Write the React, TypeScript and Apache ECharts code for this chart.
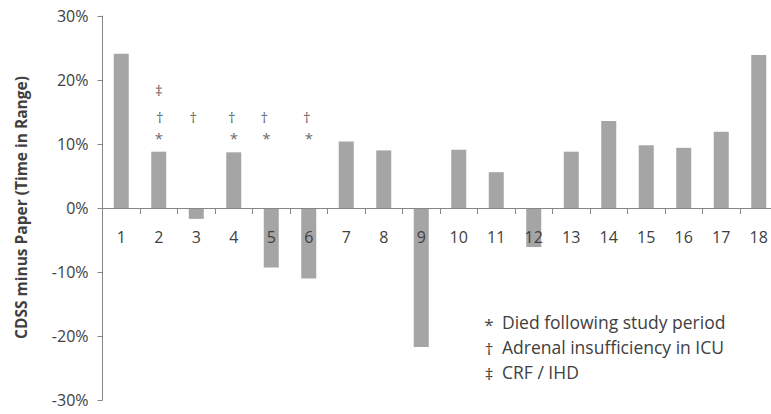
import React, { useEffect, useRef } from "react";
import * as echarts from "echarts";

const categories = ["1","2","3","4","5","6","7","8","9","10","11","12","13","14","15","16","17","18"];
const differences = [24.1, 8.8, -1.7, 8.7, -9.3, -11.0, 10.4, 9.0, -21.7, 9.1, 5.6, -6.1, 8.8, 13.6, 9.8, 9.4, 11.9, 23.9];
const yTicks = [-30, -20, -10, 0, 10, 20, 30];

// annotation symbols per patient
const diedPatients = ["2", "4", "5", "6"];
const adrenalPatients = ["2", "3", "4", "5", "6"];
const crfPatients = ["2"];

const legendItems = [
  { symbol: "*", text: "Died following study period" },
  { symbol: "\u2020", text: "Adrenal insufficiency in ICU" },
  { symbol: "\u2021", text: "CRF / IHD" },
];

const FONT = "'Open Sans', 'Noto Sans', sans-serif";
const TEXT = "#404040";
const AXIS = "#868686";

const GRID_TOP = 16;
const GRID_BOTTOM = 14;
const H = 414;

export default function App() {
  const ref = useRef<HTMLDivElement>(null);
  useEffect(() => {
    if (!ref.current) return;
    const chart = echarts.init(ref.current, undefined, { renderer: "svg" });
    const markSeries = (cats: string[], sym: string, level: number, dx: (c: string) => number) => ({
      type: "scatter",
      symbolSize: 0,
      silent: true,
      itemStyle: { color: TEXT },
      data: cats.map((c) => ({
        value: [c, level],
        label: { offset: [dx(c), 0] },
      })),
      label: {
        show: true,
        position: "inside",
        formatter: () => sym,
        color: TEXT,
        fontSize: 15,
        fontFamily: FONT,
      },
      z: 5,
    });
    const plotH = H - GRID_TOP - GRID_BOTTOM;
    const zeroFrac = (yTicks[yTicks.length - 1] - 0) / (yTicks[yTicks.length - 1] - yTicks[0]);
    chart.setOption({
      animation: false,
      textStyle: { fontFamily: FONT },
      grid: {
        left: 102.5,
        right: -6.5,
        top: GRID_TOP,
        bottom: GRID_BOTTOM,
        containLabel: false,
        outerBoundsMode: "none",
      },
      xAxis: {
        type: "category",
        data: categories,
        offset: -(plotH * (1 - zeroFrac)),
        axisLine: { onZero: false, lineStyle: { color: AXIS, width: 1 } },
        axisTick: { show: true, length: 6, lineStyle: { color: AXIS } },
        axisLabel: { color: TEXT, fontSize: 16, margin: 21, fontFamily: FONT },
        z: 10,
      },
      yAxis: {
        type: "value",
        min: yTicks[0] / 100,
        max: yTicks[yTicks.length - 1] / 100,
        interval: 0.1,
        axisLine: { show: true, lineStyle: { color: AXIS, width: 1 } },
        axisTick: { show: true, length: 5, lineStyle: { color: AXIS } },
        splitLine: { show: false },
        axisLabel: {
          color: TEXT,
          fontSize: 16,
          margin: 14,
          fontFamily: FONT,
          formatter: (v: number) => `${Math.round(v * 100)}%`,
        },
      },
      series: [
        {
          type: "bar",
          data: differences.map((d) => d / 100),
          barWidth: 15,
          itemStyle: { color: "#a5a5a5" },
          z: 2,
        },
        markSeries(diedPatients, "*", 0.109, (c) => (c === "5" ? -5 : 0)),
        markSeries(adrenalPatients, "\u2020", 0.142, (c) => (c === "3" ? -3 : c === "5" ? -7 : c === "4" ? -2 : c === "6" ? -2 : 1)),
        markSeries(crfPatients, "\u2021", 0.185, () => 0),
      ],
      graphic: [
        {
          type: "text",
          x: 21,
          y: 207.5,
          rotation: Math.PI / 2,
          style: {
            text: "CDSS minus Paper (Time in Range)",
            font: `bold 15.5px ${FONT}`,
            fill: TEXT,
            align: "center",
            verticalAlign: "middle",
          },
        },
        ...legendItems.flatMap((it, i) => [
          {
            type: "text",
            x: 489,
            y: (it.symbol === "*" ? 324 : 323) + i * 25,
            style: { text: it.symbol, font: `17px ${FONT}`, fill: TEXT, align: "center", verticalAlign: "middle" },
          },
          {
            type: "text",
            x: 502,
            y: 322 + i * 25,
            style: { text: it.text, font: `17.5px ${FONT}`, fill: TEXT, align: "left", verticalAlign: "middle" },
          },
        ]),
      ],
    });
    return () => chart.dispose();
  }, []);
  return <div ref={ref} style={{ width: 771, height: 414, position: "absolute", left: 0, top: 0 }} />;
}
